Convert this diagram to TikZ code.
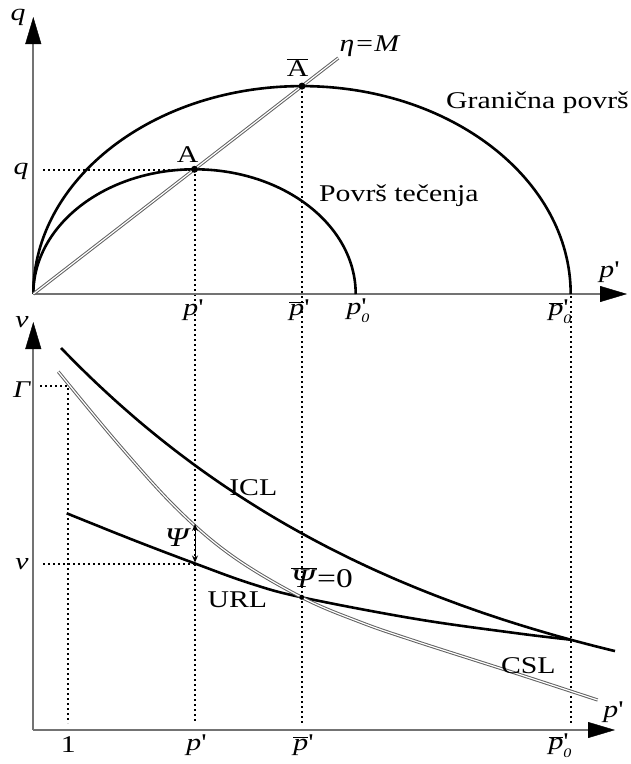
\documentclass[tikz,border=0pt]{standalone}
\usepackage{fontspec}
\setmainfont{Liberation Serif}[FakeStretch=1.24]
\usetikzlibrary{arrows.meta}
\newcommand{\pr}{\textquotesingle}
\newcommand{\ppr}{\textit{p}\pr}
\newcommand{\pbarpr}{$\overline{\mbox{\textit{p}}}$\pr}
\newcommand{\pzeropr}{\textit{p}\makebox[0pt][l]{\pr}\raisebox{-0.32em}{\fontsize{13}{13}\selectfont\textit{0}}}
\newcommand{\pbarzeropr}{$\overline{\mbox{\textit{p}}}$\makebox[0pt][l]{\pr}\raisebox{-0.32em}{\fontsize{13}{13}\selectfont\textit{0}}}
\tikzset{
  lbl/.style={font=\fontsize{24}{28}\selectfont, inner sep=0pt},
  axisline/.style={draw=black!55, line width=2pt,
    -{Triangle[length=27pt,width=16pt,line width=0.4pt,color=black,fill=black]}},
  curve/.style={draw=black, line width=2.6pt},
  dline/.style={draw=black!62, line width=1pt, double=white, double distance=1.2pt},
  dotline/.style={draw=black, line width=2pt, dash pattern=on 2pt off 3pt},
  dotmark/.style={circle, fill=black, inner sep=0pt, minimum size=7pt},
}
\begin{document}
\begin{tikzpicture}[x=1pt,y=-1pt]
\useasboundingbox (0,0) rectangle (630,764);
% ---------- top diagram ----------
\coordinate (O1) at (33.3,294);
\coordinate (qtip) at (33.3,17);
\coordinate (ptip1) at (627,294);
\coordinate (A) at (195,169.3);
\coordinate (Ab) at (302,86.1);
\coordinate (etaend) at (338.3,58);
\coordinate (qL) at (43,170);
\coordinate (qR) at (195,170);
\coordinate (pbz) at (571,296);
% ---------- bottom diagram ----------
\coordinate (O2) at (33.3,730);
\coordinate (vtip) at (33.3,322);
\coordinate (ptip2) at (615,730);
\coordinate (Ad) at (195,723);
\coordinate (Abd) at (302,723);
\coordinate (pbzd) at (571,723);
\coordinate (G) at (68,386);
\coordinate (GL) at (40,386);
\coordinate (Gd) at (68,723);
\coordinate (vL) at (43,564);
\coordinate (vR) at (195,564);
\coordinate (psiT) at (195,524);
\coordinate (psiB) at (195,562.5);
\coordinate (X) at (301.7,597.3);

% dotted guides
\draw[dotline] (qL) -- (qR);
\draw[dotline] (A) -- (Ad);
\draw[dotline] (Ab) -- (Abd);
\draw[dotline] (pbz) -- (pbzd);
\draw[dotline] (GL) -- (G) -- (Gd);
\draw[dotline] (vL) -- (vR);

% axes
\draw[axisline] (O1) -- (qtip);
\draw[axisline] (O1) -- (ptip1);
\draw[axisline] (O2) -- (vtip);
\draw[axisline] (O2) -- (ptip2);

% ellipses
\draw[curve] (O1) arc[start angle=180,end angle=0,x radius=161.2pt,y radius=124.7pt];
\draw[curve] (O1) arc[start angle=180,end angle=0,x radius=268.7pt,y radius=207.9pt];
% eta = M
\draw[dline] (O1) -- (etaend);
\node[dotmark] (Adot) at (194.5,169.3) {};
\node[dotmark] (Abdot) at (Ab) {};

% bottom curves
% ICL
\draw[curve] plot[domain=61:615,samples=80,smooth] (\x,{743-395*exp(-(\x-61)/380)});
% URL
\draw[curve] plot[smooth,tension=0.6] coordinates {(66.7,513.3) (133.3,540) (194.5,563.3) (250,583.3) (301.7,597.3) (415,618.8) (515,633) (570.7,639.7)};
% CSL
\draw[dline] plot[smooth,tension=0.6] coordinates {(58.3,371.7) (120,446) (178.3,510) (233.3,556.7) (301.7,597.3) (360,622) (415,641) (515,673) (597.7,700)};
\node[dotmark,minimum size=5pt] (Xdot) at (X) {};
\draw[line width=1pt,{Stealth[length=7pt,width=6pt]}-{Stealth[length=7pt,width=6pt]}] (psiT) -- (psiB);

% labels top
\node[lbl] (lq) at (18,17) {\textit{q}};
\node[lbl] (lqt) at (21,171) {\textit{q}};
\node[lbl] (lA) at (187.7,155) {A};
\node[lbl] (lAb) at (297.7,68) {$\overline{\mbox{A}}$};
\node[lbl] (leta) at (370,46) {\textit{η=M}};
\node[lbl,anchor=west] (lgr) at (446,103) {Granična površ};
\node[lbl,anchor=west] (lpt) at (319,196) {Površ tečenja};
\node[lbl] (lpax1) at (609,272) {\ppr};
\node[lbl] (lp1) at (193,310) {\ppr};
\node[lbl] (lpb1) at (299,310) {\pbarpr};
\node[lbl] (lp01) at (358,311) {\pzeropr};
\node[lbl] (lpb01) at (560,312) {\pbarzeropr};
% labels bottom
\node[lbl] (lv) at (22,322) {\textit{v}};
\node[lbl] (lG) at (22,390) {\textit{Γ}};
\node[lbl] (lvt) at (22,564) {\textit{v}};
\node[lbl] (l1) at (68.3,745) {1};
\node[lbl] (lp2) at (196,745) {\ppr};
\node[lbl] (lpb2) at (303,745) {\pbarpr};
\node[lbl] (lpb02) at (560,746) {\pbarzeropr};
\node[lbl] (lpax2) at (613,712) {\ppr};
\node[lbl] (lICL) at (253.3,488) {ICL};
\node[lbl] (lURL) at (237.3,600) {URL};
\node[lbl] (lCSL) at (528.3,666) {CSL};
\node[lbl,font=\fontsize{27}{30}\selectfont] (lpsi) at (178,538) {\textit{Ψ}};
\node[lbl,font=\fontsize{27}{30}\selectfont] (lpsib) at (322,578) {$\overline{\mbox{\textit{Ψ}}}$=0};
\end{tikzpicture}
\end{document}
